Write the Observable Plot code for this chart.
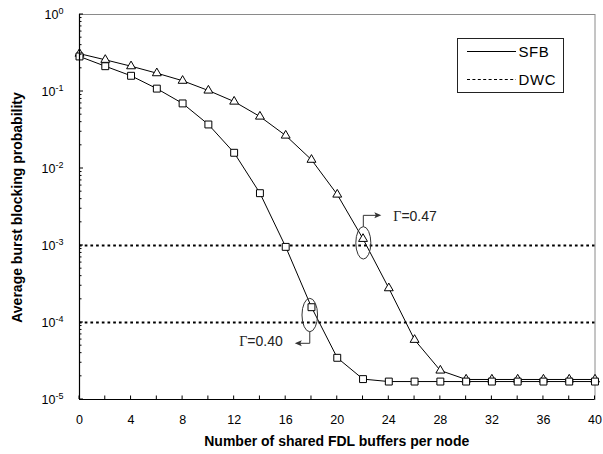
<!DOCTYPE html>
<html>
<head>
<meta charset="utf-8">
<script src="https://cdn.jsdelivr.net/npm/d3@7"></script>
<script src="https://cdn.jsdelivr.net/npm/@observablehq/plot@0.6"></script>
<style>
  body { margin: 0; background: #fff; }
  #chart svg { display: block; }
</style>
</head>
<body>
<div id="chart"></div>
<script>
// ---- data ----
const buffers = [0, 2, 4, 6, 8, 10, 12, 14, 16, 18, 20, 22, 24, 26, 28, 30, 32, 34, 36, 38, 40];
const sfbGamma047 = [0.31, 0.258, 0.213, 0.173, 0.138, 0.103, 0.074, 0.0473, 0.0268, 0.013, 0.00459,
  0.00122, 0.000279, 0.0000596, 0.0000238, 0.0000182, 0.0000182, 0.0000182, 0.0000182, 0.0000182, 0.0000182];
const sfbGamma040 = [0.285, 0.213, 0.16, 0.109, 0.070, 0.0373, 0.016, 0.00478, 0.00096, 0.000158, 0.0000348,
  0.0000184, 0.0000171, 0.0000171, 0.0000171, 0.0000171, 0.0000171, 0.0000171, 0.0000171, 0.0000171, 0.0000171];
const dwcLevels = [1e-3, 1e-4];
const xTicks = [0, 4, 8, 12, 16, 20, 24, 28, 32, 36, 40];
const yTicks = [1e-5, 1e-4, 1e-3, 1e-2, 1e-1, 1];
const yTickExponents = ["-5", "-4", "-3", "-2", "-1", "0"];
const legendLabels = ["SFB", "DWC"];
const annotLabels = ["=0.47", "=0.40"];
const annotX = [22, 18];
const annotY = [0.00122, 0.000158];
const xTitle = "Number of shared FDL buffers per node";
const yTitle = "Average burst blocking probability";

const rows047 = buffers.map((b, i) => ({b, p: sfbGamma047[i]}));
const rows040 = buffers.map((b, i) => ({b, p: sfbGamma040[i]}));

const FONT = "'Liberation Sans', Arial, sans-serif";

function overlay(index, scales, values, dimensions) {
  const {x, y} = scales;
  const {width, height, marginLeft, marginRight, marginTop, marginBottom} = dimensions;
  const x0 = marginLeft, x1 = width - marginRight, y0 = marginTop, y1 = height - marginBottom;
  const g = d3.create("svg:g").attr("text-anchor", "start");
  // x ticks (inside)
  for (const b of buffers) {
    g.append("line").attr("x1", x(b)).attr("x2", x(b)).attr("y1", y1).attr("y2", y1 - 3.5)
      .attr("stroke", "black");
  }
  // y ticks (inside, major + minor)
  for (let k = -5; k <= 0; k++) {
    for (let m = 1; m <= 9; m++) {
      const v = m * Math.pow(10, k);
      if (v > 1.0001) break;
      const len = m === 1 ? 4 : 2.5;
      g.append("line").attr("x1", x0).attr("x2", x0 + len).attr("y1", y(v)).attr("y2", y(v))
        .attr("stroke", "black");
    }
  }
  // axis titles
  g.append("text").attr("x", (x0 + x1) / 2).attr("y", 446)
    .attr("text-anchor", "middle").attr("font-weight", "bold").attr("font-size", 14)
    .attr("font-family", FONT).attr("fill", "black").text(xTitle);
  g.append("text").attr("transform", `translate(22,${(y0 + y1) / 2 + 1}) rotate(-90)`)
    .attr("text-anchor", "middle").attr("font-weight", "bold").attr("font-size", 14)
    .attr("font-family", FONT).attr("fill", "black").text(yTitle);
  // legend
  const lg = g.append("g");
  lg.append("rect").attr("x", 457.5).attr("y", 38.5).attr("width", 106).attr("height", 54)
    .attr("fill", "white").attr("stroke", "#222").attr("stroke-width", 1);
  lg.append("line").attr("x1", 467).attr("x2", 516).attr("y1", 51.5).attr("y2", 51.5)
    .attr("stroke", "black");
  lg.append("line").attr("x1", 467).attr("x2", 516).attr("y1", 79.5).attr("y2", 79.5)
    .attr("stroke", "black").attr("stroke-dasharray", "3,2.4");
  lg.append("text").attr("x", 518.5).attr("y", 57).attr("font-size", 15).attr("letter-spacing", 0.6)
    .attr("text-anchor", "start").attr("font-family", FONT).attr("fill", "black").text(legendLabels[0]);
  lg.append("text").attr("x", 518.5).attr("y", 84.5).attr("font-size", 15).attr("letter-spacing", 0.6)
    .attr("text-anchor", "start").attr("font-family", FONT).attr("fill", "black").text(legendLabels[1]);
  // annotations
  const arrow = (ax, ay, dir) =>
    `M${ax},${ay}L${ax - dir * 7},${ay - 3}L${ax - dir * 5.5},${ay}L${ax - dir * 7},${ay + 3}Z`;
  // Gamma = 0.47 (up then right)
  {
    const cx = x(annotX[0]) + 0.8, cy = y(annotY[0]) + 4.5;
    g.append("ellipse").attr("cx", cx).attr("cy", cy).attr("rx", 7.5).attr("ry", 16.2)
      .attr("fill", "none").attr("stroke", "#333").attr("stroke-width", 1);
    const ty = cy - 16.2, ky = cy - 27.5, ex = cx + 18;
    g.append("path").attr("d", `M${cx},${ty}V${ky}H${ex - 4}`).attr("fill", "none").attr("stroke", "#333");
    g.append("path").attr("d", arrow(ex, ky, 1)).attr("fill", "#333");
    const t = g.append("text").attr("x", cx + 30).attr("y", ky + 5.5).attr("font-size", 14)
      .attr("text-anchor", "start").attr("font-family", FONT).attr("fill", "#222");
    t.append("tspan").attr("font-family", "'Liberation Serif', 'Times New Roman', serif").text("\u0393");
    t.append("tspan").text(annotLabels[0]);
  }
  // Gamma = 0.40 (down then left)
  {
    const cx = x(annotX[1]) - 1.2, cy = y(annotY[1]) + 8.3;
    g.append("ellipse").attr("cx", cx).attr("cy", cy).attr("rx", 7.8).attr("ry", 16.7)
      .attr("fill", "none").attr("stroke", "#333").attr("stroke-width", 1);
    const by = cy + 16.7, ky = cy + 28.3, ex = cx - 15;
    g.append("path").attr("d", `M${cx},${by}V${ky}H${ex + 4}`).attr("fill", "none").attr("stroke", "#333");
    g.append("path").attr("d", arrow(ex, ky, -1)).attr("fill", "#333");
    const t = g.append("text").attr("x", cx - 27).attr("y", ky + 2.5).attr("font-size", 14)
      .attr("text-anchor", "end").attr("font-family", FONT).attr("fill", "#222");
    t.append("tspan").attr("font-family", "'Liberation Serif', 'Times New Roman', serif").text("\u0393");
    t.append("tspan").text(annotLabels[1]);
  }
  return g.node();
}

const chart = Plot.plot({
  width: 603,
  height: 454,
  marginLeft: 79,
  marginRight: 8.5,
  marginTop: 14,
  marginBottom: 55,
  style: {fontFamily: FONT, fontSize: "12.5px", background: "white", color: "black"},
  x: {domain: [0, 40], ticks: xTicks, tickSize: 0, tickPadding: 16, tickFormat: d => String(d), label: null},
  y: {type: "log", domain: [1e-5, 1], ticks: yTicks, tickSize: 0, tickPadding: 16,
      tickFormat: d => "10^" + yTickExponents[yTicks.findIndex(t => Math.abs(t - d) / t < 1e-6)], label: null},
  marks: [
    Plot.frame({stroke: "#8a8a8a", strokeWidth: 1}),
    Plot.ruleY(dwcLevels, {stroke: "black", strokeWidth: 2, strokeDasharray: "2.7,3"}),
    Plot.line(rows047, {x: "b", y: "p", stroke: "black", strokeWidth: 1}),
    Plot.line(rows040, {x: "b", y: "p", stroke: "black", strokeWidth: 1}),
    Plot.dot(rows047, {x: "b", y: "p", symbol: "triangle", r: 3.3, fill: "white", stroke: "black", strokeWidth: 1}),
    Plot.dot(rows040, {x: "b", y: "p", symbol: "square", r: 3.9, fill: "white", stroke: "black", strokeWidth: 1}),
    Plot.ruleX([0], {stroke: "black", strokeWidth: 1.2}),
    Plot.ruleY([1e-5], {stroke: "black", strokeWidth: 1.2}),
    overlay
  ]
});

// superscript exponents on y tick labels
chart.querySelectorAll("text").forEach(t => {
  const m = /^10\^(-?\d+)$/.exec(t.textContent.trim());
  if (!m) return;
  while (t.firstChild) t.removeChild(t.firstChild);
  t.appendChild(document.createTextNode("10"));
  const sup = document.createElementNS("http://www.w3.org/2000/svg", "tspan");
  sup.setAttribute("dy", "-5");
  sup.setAttribute("style", "font-size:9px");
  sup.textContent = m[1];
  t.appendChild(sup);
});

document.getElementById("chart").appendChild(chart);
</script>
</body>
</html>
